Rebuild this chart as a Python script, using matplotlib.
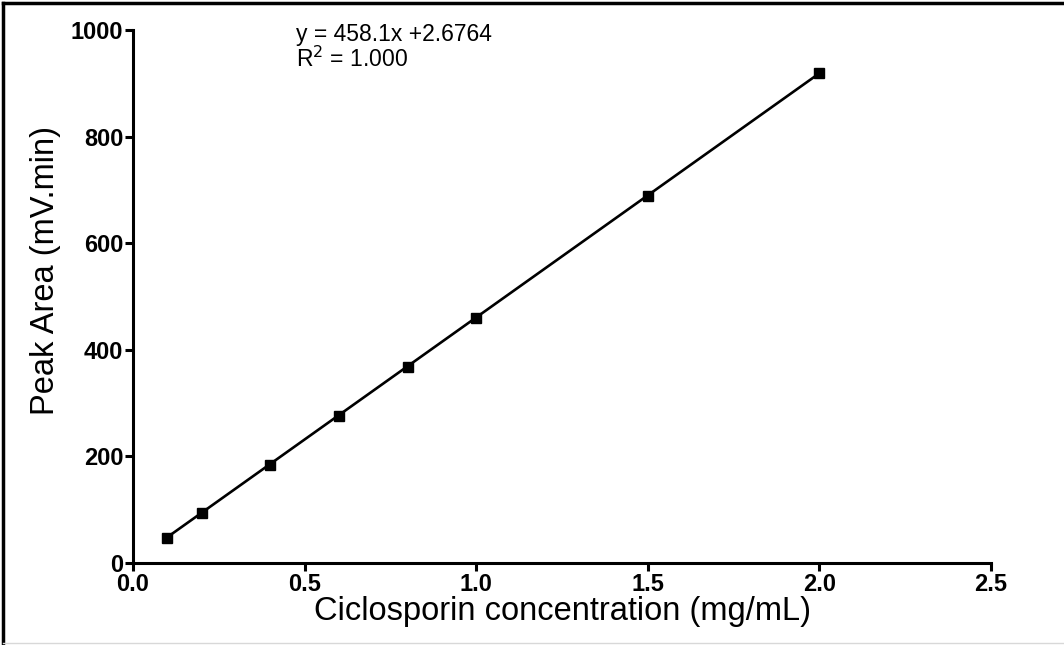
import matplotlib
matplotlib.use("Agg")
import matplotlib.pyplot as plt
from matplotlib.lines import Line2D
import numpy as np

plt.rcParams['font.family'] = ['Liberation Sans', 'DejaVu Sans']

# calibracion: concentracion vs area de pico
conc = [0.1, 0.2, 0.4, 0.6, 0.8, 1.0, 1.5, 2.0]
area = [46.5, 93.0, 184.0, 276.0, 367.5, 459.5, 689.0, 918.5]
slope = 458.1
intercept = 2.6764
xticks = [0.0, 0.5, 1.0, 1.5, 2.0, 2.5]
yticks = [0, 200, 400, 600, 800, 1000]

fig = plt.figure(figsize=(10.64, 6.45), dpi=100)
ax = fig.add_axes([0.125, 0.1271, 0.8064, 0.8264])

xfit = np.array([min(conc), max(conc)])
ax.plot(xfit, slope * xfit + intercept, color='black', lw=1.9, zorder=2)
ax.plot(conc, area, 's', color='black', ms=7.5, zorder=3, clip_on=False)

ax.set_xlim(0, 2.5)
ax.set_ylim(0, 1000)
ax.set_xticks(xticks)
ax.set_yticks(yticks)
ax.set_xticklabels([f"{t:.1f}" for t in xticks])
ax.set_yticklabels([str(t) for t in yticks])

for s in ['top', 'right']:
    ax.spines[s].set_visible(False)
for s in ['left', 'bottom']:
    ax.spines[s].set_linewidth(2.2)
ax.tick_params(axis='both', direction='out', length=6, width=2.2, labelsize=17, pad=1)
for lab in ax.get_xticklabels() + ax.get_yticklabels():
    lab.set_fontweight('bold')

ax.set_xlabel('Ciclosporin concentration (mg/mL)', fontsize=23.5, labelpad=0)
ax.set_ylabel('Peak Area (mV.min)', fontsize=23.5)
ax.yaxis.set_label_coords(-0.084, 0.548)

ax.text(0.1905, 0.992, 'y = 458.1x +2.6764', transform=ax.transAxes,
        fontsize=16.5, va='center', ha='left')
ax.text(0.1905, 0.945, 'R$^2$ = 1.000', transform=ax.transAxes,
        fontsize=16.5, va='center', ha='left')

# marco de la figura
fig.add_artist(Line2D([0.003, 1.0], [0.995, 0.995], color='black', lw=2.5,
                      transform=fig.transFigure))
fig.add_artist(Line2D([0.003, 0.003], [0.003, 0.995], color='black', lw=2.5,
                      transform=fig.transFigure))
fig.add_artist(Line2D([0.003, 1.0], [0.003, 0.003], color='#d8d8d8', lw=1,
                      transform=fig.transFigure))

fig.savefig('out.png', dpi=100)
